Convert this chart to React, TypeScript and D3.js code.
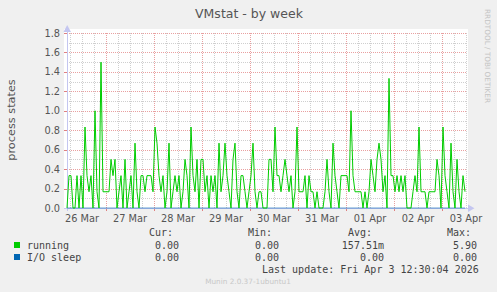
import React from "react";
import * as d3 from "d3";

// ---- data (hourly averages, process counts) ----
const startTime = Date.UTC(2026, 2, 26, 4, 30);
const endTime = Date.UTC(2026, 3, 3, 12, 30);
const dayLabels = ["26 Mar", "27 Mar", "28 Mar", "29 Mar", "30 Mar", "31 Mar", "01 Apr", "02 Apr", "03 Apr"];
const yTicks = [0, 0.2, 0.4, 0.6, 0.8, 1.0, 1.2, 1.4, 1.6, 1.8];
const runningValues = [
  0, 0.333, 0.333, 0, 0, 0.333, 0, 0.333, 0, 0.833,
  0.333, 0.167, 0.333, 0, 1.0, 0.167, 0, 1.5, 0.167, 0.167,
  0.167, 0.167, 0.5, 0.333, 0.5, 0, 0.167, 0.333, 0, 0.5,
  0, 0.167, 0.333, 0, 0.667, 0.167, 0, 0.333, 0.333, 0.167,
  0.333, 0.333, 0.333, 0.167, 0.833, 0.667, 0.333, 0.167, 0.333, 0,
  0.167, 0.667, 0, 0.167, 0.333, 0.167, 0.333, 0, 0.167, 0.5,
  0.333, 0, 0.833, 0.333, 0.167, 0.5, 0, 0.5, 0.5, 0.167,
  0.333, 0, 0.333, 0.167, 0.333, 0, 0.667, 0.167, 0.333, 0.667,
  0.333, 0.167, 0, 0.5, 0.667, 0.167, 0, 0.333, 0.333, 0.167,
  0, 0.167, 0.333, 0.667, 0.167, 0, 0.167, 0.167, 0, 0,
  0, 0.5, 0.5, 0.167, 0.833, 0.333, 0.333, 0.167, 0.333, 0.5,
  0.333, 0.167, 0.333, 0, 0.167, 0.833, 0.167, 0.167, 0.167, 0.333,
  0, 0.333, 0.167, 0.167, 0, 0.167, 0, 0, 0, 0.167,
  0.5, 0.167, 0, 0.667, 0.333, 0.167, 0, 0.333, 0.333, 0.333,
  0.333, 0.167, 1.0, 0.333, 0.167, 0.167, 0.167, 0.167, 0, 0.167,
  0, 0.167, 0.5, 0.333, 0.167, 0.5, 0.667, 0.5, 0.167, 0.333,
  0, 1.333, 0.333, 0.333, 0.167, 0.333, 0.167, 0.333, 0.167, 0.333,
  0, 0, 0, 0.167, 0.333, 0.167, 0.833, 0.167, 0.167, 0.167,
  0, 0.167, 0.167, 0.167, 0.167, 0.5, 0.333, 0, 0.833, 0.333,
  0.167, 0, 0.667, 0.167, 0, 0.5, 0.167, 0, 0.333, 0.167,
];
const legendRows = [
  { name: "running", color: "#00CC00", cur: "0.00", min: "0.00", avg: "157.51m", max: "5.90" },
  { name: "I/O sleep", color: "#0066B3", cur: "0.00", min: "0.00", avg: "0.00 ", max: "0.00" },
];

const W = 497, H = 292;
const PL = 67, PR = 467, PT = 33, PB = 208;
const SANS = "DejaVu Sans";
const MONO = "DejaVu Sans Mono";
const HOUR = 3600 * 1000;

export default function App() {
  const x = d3.scaleUtc().domain([startTime, endTime]).range([PL, PR]);
  const y = d3.scaleLinear().domain([0, 1.8]).range([PB, PT]);

  const pts = runningValues.map((v, i) => ({ t: startTime + i * HOUR, v }));
  const line = d3.line<{ t: number; v: number }>().x((d) => x(d.t)).y((d) => y(d.v));
  const zeroLine = d3.line<{ t: number; v: number }>().x((d) => x(d.t)).y(() => y(0));

  const sixHours = d3.utcHour.every(6)!.range(new Date(startTime), new Date(endTime + 1));
  const days = d3.utcDay.range(new Date(startTime), new Date(endTime + 1));
  const firstDay = d3.utcDay.floor(new Date(startTime));
  const labelDays = dayLabels.map((lab, k) => ({ lab, t: d3.utcHour.offset(d3.utcDay.offset(firstDay, k), 12) }));
  const minorY = d3.range(1, 18).map((k) => k / 10).filter((v) => Math.round(v * 10) % 2 !== 0);

  return (
    <svg width={W} height={H} style={{ position: "absolute", left: 0, top: 0 }} xmlns="http://www.w3.org/2000/svg">
      <rect x={0} y={0} width={W} height={H} fill="#F0F0F0" />
      <rect x={64} y={29} width={404} height={180} fill="#FFFFFF" />

      {/* title */}
      <text x={249} y={18} textAnchor="middle" fontFamily={SANS} fontSize={12.5} fill="#555">VMstat - by week</text>

      {/* minor grid */}
      <g stroke="#cfcfcf" strokeWidth={1} strokeDasharray="1,1" shapeRendering="crispEdges">
        {sixHours.filter((d) => d.getUTCHours() !== 0).map((d, i) => (
          <line key={"vx" + i} x1={Math.round(x(d)) + 0.5} x2={Math.round(x(d)) + 0.5} y1={PT} y2={PB} />
        ))}
        {minorY.map((v, i) => (
          <line key={"hy" + i} x1={PL} x2={PR} y1={Math.round(y(v)) + 0.5} y2={Math.round(y(v)) + 0.5} />
        ))}
      </g>
      {/* major grid */}
      <g stroke="#e9a0a0" strokeWidth={1} strokeDasharray="1,1" shapeRendering="crispEdges">
        {days.map((d, i) => (
          <line key={"mx" + i} x1={Math.round(x(d)) + 0.5} x2={Math.round(x(d)) + 0.5} y1={PT} y2={PB} />
        ))}
        {yTicks.filter((v) => v > 0).map((v, i) => (
          <line key={"my" + i} x1={PL} x2={PR} y1={Math.round(y(v)) + 0.5} y2={Math.round(y(v)) + 0.5} />
        ))}
      </g>
      {/* ticks */}
      <g stroke="#e08080" strokeWidth={1} shapeRendering="crispEdges">
        {days.map((d, i) => (
          <line key={"tx" + i} x1={Math.round(x(d)) + 0.5} x2={Math.round(x(d)) + 0.5} y1={PB} y2={PB + 3} />
        ))}
        {yTicks.map((v, i) => (
          <line key={"ty" + i} x1={PL - 3} x2={PL} y1={Math.round(y(v)) + 0.5} y2={Math.round(y(v)) + 0.5} />
        ))}
      </g>

      {/* y labels */}
      {yTicks.map((v, i) => (
        <text key={"yl" + i} x={60} y={y(v) + 3.6} textAnchor="end" fontFamily={SANS} fontSize={9.8} fill="#555">
          {v.toFixed(1)}
        </text>
      ))}
      {/* x labels */}
      {labelDays.map((d, i) => (
        <text key={"xl" + i} x={x(d.t)} y={222} textAnchor="middle" fontFamily={SANS} fontSize={9.8} fill="#555">
          {d.lab}
        </text>
      ))}
      {/* y title */}
      <text transform="translate(15,120) rotate(-90)" textAnchor="middle" fontFamily={SANS} fontSize={11.3} fill="#555">
        process states
      </text>
      {/* watermark */}
      <text transform="translate(485,56) rotate(90)" textAnchor="middle" fontFamily={SANS} fontSize={7.3} fill="#c4c4c4">
        RRDTOOL / TOBI OETIKER
      </text>

      {/* axes */}
      <g stroke="#c4c6f0" strokeWidth={1} fill="none" shapeRendering="crispEdges">
        <line x1={PL + 0.5} x2={PL + 0.5} y1={PB + 3} y2={28} />
        <line x1={64} x2={471} y1={PB + 0.5} y2={PB + 0.5} />
      </g>
      <path d="M63.5,32 L71,32 L67.2,25 Z" fill="#c4c6f0" />
      <path d="M468,204.5 L468,212 L474.5,208.3 Z" fill="#c4c6f0" />

      {/* series */}
      <path d={zeroLine(pts) || ""} fill="none" stroke="#0066B3" strokeOpacity={0.6} strokeWidth={1} />
      <path d={line(pts) || ""} fill="none" stroke="#00CC00" strokeWidth={1} />

      {/* legend */}
      <g fontFamily={MONO} fontSize={10} fill="#444" style={{ whiteSpace: "pre" }}>
        <text x={149} y={236}>Cur:</text>
        <text x={248} y={236}>Min:</text>
        <text x={348} y={236}>Avg:</text>
        <text x={447} y={236}>Max:</text>
        {legendRows.map((r, i) => (
          <g key={r.name}>
            <rect x={14} y={242 + i * 12} width={6} height={6} fill={r.color} />
            <text x={27} y={248.5 + i * 12}>{r.name}</text>
            <text x={179} y={248.5 + i * 12} textAnchor="end">{r.cur}</text>
            <text x={279} y={248.5 + i * 12} textAnchor="end">{r.min}</text>
            <text x={384} y={248.5 + i * 12} textAnchor="end">{r.avg}</text>
            <text x={477} y={248.5 + i * 12} textAnchor="end">{r.max}</text>
          </g>
        ))}
        <text x={262} y={272.5}>Last update: Fri Apr  3 12:30:04 2026</text>
      </g>
      <text x={248} y={284} textAnchor="middle" fontFamily={SANS} fontSize={7.3} fill="#c8c8c8">Munin 2.0.37-1ubuntu1</text>
    </svg>
  );
}
